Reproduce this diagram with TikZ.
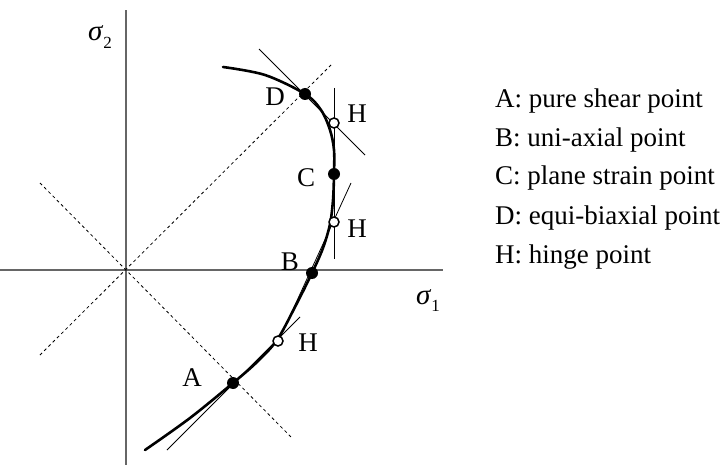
\documentclass[tikz,border=0pt]{standalone}
\usepackage{fontspec}
\setmainfont{Liberation Serif}
\begin{document}
\begin{tikzpicture}[x=1pt,y=-1pt,
  axis/.style={draw=black!60,line width=1.2pt},
  guide/.style={draw=black,line width=0.8pt,dash pattern=on 3pt off 3pt},
  tangent/.style={draw=black,line width=0.8pt},
  locus/.style={draw=black,line width=2.6pt,line cap=round},
  fullpt/.style={circle,fill=black,inner sep=0pt,minimum size=12pt},
  hingept/.style={circle,draw=black,fill=white,line width=1.5pt,inner sep=0pt,minimum size=10pt},
  lbl/.style={font=\fontsize{27}{31}\selectfont,inner sep=0pt},
  legend/.style={font=\fontsize{27}{31}\selectfont,inner sep=0pt,anchor=base west}]
\useasboundingbox (0,0) rectangle (725,465);
% axes
\coordinate (O) at (126,270);
\coordinate (ytop) at (126,10);
\coordinate (ybot) at (126,465);
\coordinate (xl) at (0,270);
\coordinate (xr) at (443,270);
\draw[axis] (ybot) -- (ytop);
\draw[axis] (xl) -- (xr);
% dashed guide lines
\coordinate (g1a) at (40,183);
\coordinate (g1b) at (292,438);
\coordinate (g2a) at (40,355);
\coordinate (g2b) at (333,63);
\draw[guide] (g1a) -- (g1b);
\draw[guide] (g2a) -- (g2b);
% tangents
\coordinate (tDa) at (259,49);
\coordinate (tDb) at (365,155);
\coordinate (tCa) at (334,88);
\coordinate (tCb) at (334,259);
\coordinate (tBa) at (351,183);
\coordinate (tBb) at (278,342);
\coordinate (tAa) at (167,450);
\coordinate (tAb) at (300,317);
\draw[tangent] (tDa) -- (tDb);
\draw[tangent] (tCa) -- (tCb);
\draw[tangent] (tBa) -- (tBb);
\draw[tangent] (tAa) -- (tAb);
% yield locus
\coordinate (pA) at (233,383);
\coordinate (pB) at (312,273);
\coordinate (pC) at (334,174);
\coordinate (pD) at (305,94);
\draw[locus] plot[smooth,tension=0.55] coordinates {(223,67) (265,75) (pD) (321,110) (330,130) (334,150) (pC) (333,200) (330,224) (323,248) (pB) (295,307) (277,340) (257,362) (pA) (190,418) (145,450)};
% points
\node[fullpt] (A) at (pA) {};
\node[fullpt] (B) at (pB) {};
\node[fullpt] (C) at (pC) {};
\node[fullpt] (D) at (pD) {};
\node[hingept] (H1) at (334,123) {};
\node[hingept] (H2) at (334,222) {};
\node[hingept] (H3) at (278,341) {};
% point labels
\node[lbl] (lA) at (192,378) {A};
\node[lbl] (lB) at (290,262) {B};
\node[lbl] (lC) at (306,178) {C};
\node[lbl] (lD) at (275,97) {D};
\node[lbl] (lH1) at (357,114) {H};
\node[lbl] (lH2) at (357,229) {H};
\node[lbl] (lH3) at (308,343) {H};
% axis labels
\node[lbl,anchor=base west] (s2) at (88,41) {\itshape\fontsize{29}{31}\selectfont σ\/\raisebox{-0.25em}{\upshape\fontsize{17}{17}\selectfont 2}};
\node[lbl,anchor=base west] (s1) at (416,304) {\itshape\fontsize{29}{31}\selectfont σ\/\raisebox{-0.25em}{\upshape\fontsize{17}{17}\selectfont 1}};
% legend
\node[legend] (L1) at (495,108) {A: pure shear point};
\node[legend] (L2) at (495,147) {B: uni-axial point};
\node[legend] (L3) at (495,185) {C: plane strain point};
\node[legend] (L4) at (495,224) {D: equi-biaxial point};
\node[legend] (L5) at (495,263) {H: hinge point};
\end{tikzpicture}
\end{document}
